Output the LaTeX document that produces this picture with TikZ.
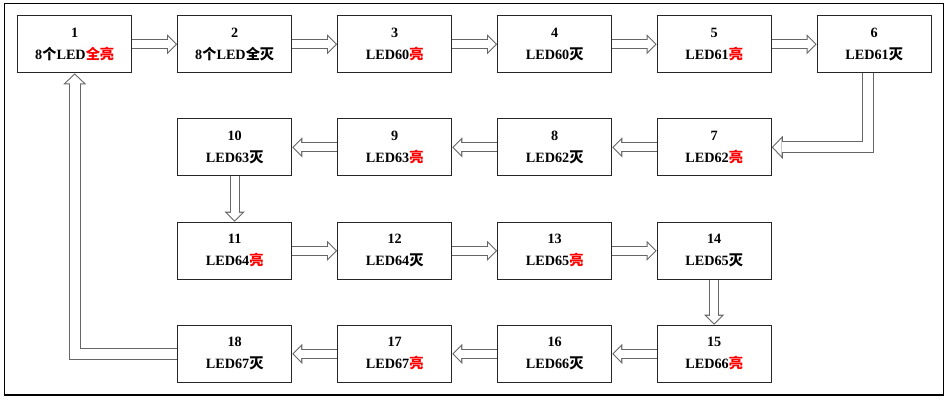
\documentclass[tikz,border=0pt]{standalone}
\usepackage{fontspec}
\setmainfont{Liberation Serif}
\newfontfamily\cjk{Noto Sans CJK SC}
\usetikzlibrary{arrows.meta,backgrounds}
\newcommand\liang{{\cjk\color{red}亮}}
\newcommand\mie{{\cjk 灭}}
\tikzset{
  box/.style={draw=black!85,line width=0.8pt,fill=white,minimum width=2.85cm,minimum height=1.425cm,
    inner sep=0pt,align=center,font=\fontsize{10.1}{15.6}\selectfont\bfseries},
  flow/.style={draw=white,line width=5.6pt,shorten >=1.06pt,-{Triangle[length=5.3pt,width=10.6pt,line width=0pt]},
    preaction={draw=black!60,line width=7.1pt,shorten >=0pt,-{Triangle[length=7.1pt,width=14.2pt,line width=0pt]}}},
  flowwide/.style={draw=white,line width=7pt,shorten >=1.04pt,-{Triangle[length=6pt,width=12.6pt,line width=0pt]},
    preaction={draw=black!60,line width=8.5pt,shorten >=0pt,-{Triangle[length=7.8pt,width=16.4pt,line width=0pt]}}}
}
\begin{document}
\begin{tikzpicture}[x=0.025cm,y=-0.025cm]
\useasboundingbox (0,0) rectangle (950,401);
\draw[line width=0.9pt] (4.3,3.3) rectangle (943.3,395);
\node[box] (n1) at (74.7,44.3) {1\\8{\cjk 个}LED{\cjk\color{red}全亮}};
\node[box] (n2) at (234.7,44.3) {2\\8{\cjk 个}LED{\cjk 全灭}};
\node[box] (n3) at (394.7,44.3) {3\\LED60\liang};
\node[box] (n4) at (554.7,44.3) {4\\LED60\mie};
\node[box] (n5) at (714.2,44.3) {5\\LED61\liang};
\node[box] (n6) at (874.2,44.3) {6\\LED61\mie};
\node[box] (n7) at (714.2,147.3) {7\\LED62\liang};
\node[box] (n8) at (554.7,147.3) {8\\LED62\mie};
\node[box] (n9) at (394.7,147.3) {9\\LED63\liang};
\node[box] (n10) at (234.7,147.3) {10\\LED63\mie};
\node[box] (n11) at (234.7,250.8) {11\\LED64\liang};
\node[box] (n12) at (394.7,250.8) {12\\LED64\mie};
\node[box] (n13) at (554.7,250.8) {13\\LED65\liang};
\node[box] (n14) at (714.2,250.8) {14\\LED65\mie};
\node[box] (n15) at (714.2,353.8) {15\\LED66\liang};
\node[box] (n16) at (554.7,353.8) {16\\LED66\mie};
\node[box] (n17) at (394.7,353.8) {17\\LED67\liang};
\node[box] (n18) at (234.7,353.8) {18\\LED67\mie};
\begin{scope}[on background layer]
\draw[flow] (n1) -- (n2);
\draw[flow] (n2) -- (n3);
\draw[flow] (n3) -- (n4);
\draw[flow] (n4) -- (n5);
\draw[flow] (n5) -- (n6);
\draw[flowwide] ([xshift=-4.3pt]n6.south) |- (n7.east);
\draw[flow] (n7) -- (n8);
\draw[flow] (n8) -- (n9);
\draw[flow] (n9) -- (n10);
\draw[flow] (n10) -- (n11);
\draw[flow] (n11) -- (n12);
\draw[flow] (n12) -- (n13);
\draw[flow] (n13) -- (n14);
\draw[flow] (n14) -- (n15);
\draw[flow] (n15) -- (n16);
\draw[flow] (n16) -- (n17);
\draw[flow] (n17) -- (n18);
\draw[flowwide] (n18.west) -| (n1.south);
\end{scope}
\end{tikzpicture}
\end{document}
